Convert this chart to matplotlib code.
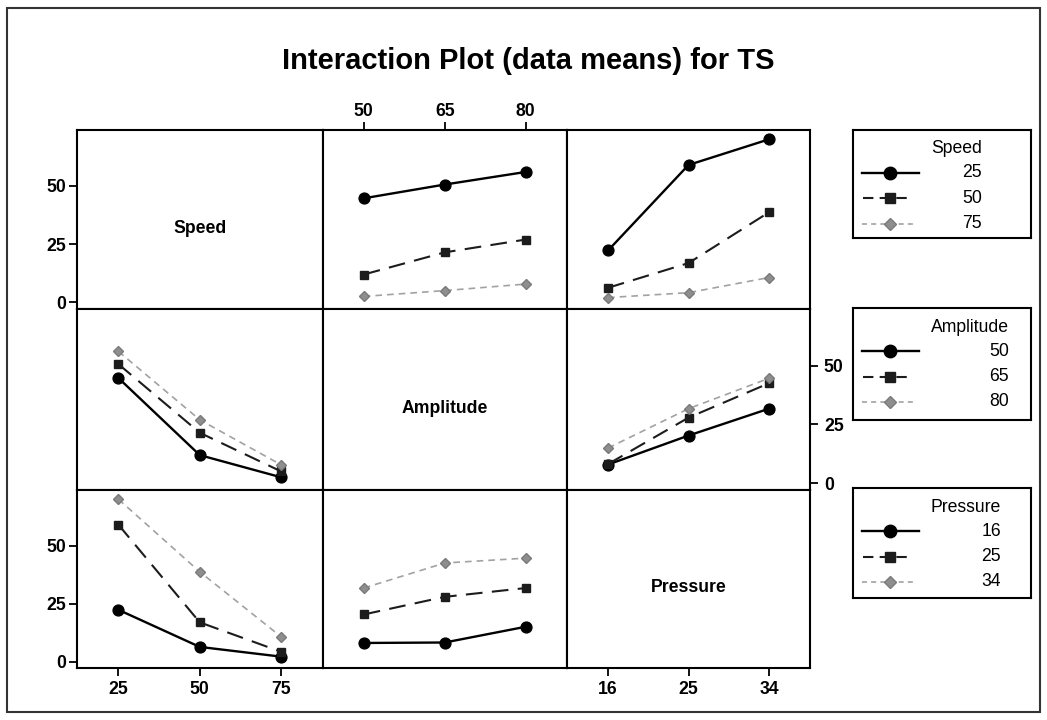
import matplotlib
matplotlib.use("Agg")
import matplotlib.pyplot as plt
from matplotlib.patches import Rectangle
import numpy as np

plt.rcParams['font.family'] = ['Liberation Sans', 'DejaVu Sans']

# ---------------- data ----------------
title = "Interaction Plot (data means) for TS"
factors = ["Speed", "Amplitude", "Pressure"]
speed_levels = [25, 50, 75]
amplitude_levels = [50, 65, 80]
pressure_levels = [16, 25, 34]

# mean TS: rows = Speed level, cols = Amplitude level
ts_speed_amplitude = [[44.7, 50.6, 56.0],
                      [12.0, 21.5, 27.0],
                      [2.6, 5.1, 7.9]]
# rows = Speed level, cols = Pressure level
ts_speed_pressure = [[22.3, 59.0, 70.0],
                     [6.3, 16.9, 38.7],
                     [2.1, 4.2, 10.7]]
# rows = Amplitude level, cols = Pressure level
ts_amplitude_pressure = [[8.0, 20.3, 31.7],
                         [8.2, 27.9, 42.5],
                         [15.0, 31.7, 44.6]]
y_ticks = [0, 25, 50]

levels = [speed_levels, amplitude_levels, pressure_levels]
tables = {
    (0, 1): np.array(ts_speed_amplitude),
    (0, 2): np.array(ts_speed_pressure),
    (1, 2): np.array(ts_amplitude_pressure),
}
tables[(1, 0)] = tables[(0, 1)].T
tables[(2, 0)] = tables[(0, 2)].T
tables[(2, 1)] = tables[(1, 2)].T

# ---------------- layout ----------------
W, H = 1047, 720
fig = plt.figure(figsize=(W / 100, H / 100), dpi=100)
fig.patch.set_facecolor('white')

def fx(x):
    return x / W

def fy(y):
    return 1 - y / H

col_edges = [77, 322.5, 567, 810]
row_edges = [130, 309, 490, 668]
YLIM = (-2.8, 74.0)
PADF = 0.255

styles = [
    dict(color='black', ls='-', lw=1.7, marker='o', ms=7.8, mfc='black', mec='black'),
    dict(color='#1c1c1c', ls=(0, (8, 4.5)), lw=1.5, marker='s', ms=6.0, mfc='#1c1c1c', mec='#1c1c1c'),
    dict(color='#a2a2a2', ls=(0, (4, 3)), lw=1.2, marker='D', ms=5.5, mfc='#8e8e8e', mec='#7a7a7a'),
]

TICK_FS = 12.7
tick_kw = dict(fontsize=TICK_FS, fontweight='bold')

for r in range(3):
    for c in range(3):
        x0, x1 = col_edges[c], col_edges[c + 1]
        y0, y1 = row_edges[r], row_edges[r + 1]
        ax = fig.add_axes([fx(x0), fy(y1), (x1 - x0) / W, (y1 - y0) / H])
        for sp in ax.spines.values():
            sp.set_linewidth(1.5)
            sp.set_color('black')
        lv = levels[c]
        span = lv[-1] - lv[0]
        ax.set_xlim(lv[0] - PADF * span, lv[-1] + PADF * span)
        ax.set_ylim(*YLIM)
        ax.tick_params(direction='out', length=6, width=1.3, colors='black')
        ax.set_xticks([])
        ax.set_yticks([])
        if r == c:
            ax.text(0.5, 0.45, factors[r], transform=ax.transAxes, ha='center',
                    va='center', fontsize=TICK_FS, fontweight='bold')
        else:
            tab = tables[(r, c)]
            for i in range(3):
                ax.plot(lv, tab[i], **styles[i])
        # x ticks
        if (c == 0 and r == 2) or (c == 2 and r == 2):
            ax.set_xticks(lv)
            ax.set_xticklabels([str(v) for v in lv], **tick_kw)
            ax.tick_params(axis='x', pad=3)
        if c == 1 and r == 0:
            ax.xaxis.set_ticks_position('top')
            ax.set_xticks(lv)
            ax.set_xticklabels([str(v) for v in lv], **tick_kw)
            ax.tick_params(axis='x', pad=1.5)
        # y ticks
        if c == 0 and r in (0, 2):
            ax.set_yticks(y_ticks)
            ax.set_yticklabels([str(v) for v in y_ticks], **tick_kw)
            ax.tick_params(axis='y', pad=2)
        if c == 2 and r == 1:
            ax.yaxis.set_ticks_position('right')
            ax.set_yticks(y_ticks)
            ax.set_yticklabels([str(v) for v in y_ticks], **tick_kw)
            ax.tick_params(axis='y', pad=4)

# ---------------- legends ----------------
legend_boxes = [(853, 1031, 130, 238), (853, 1031, 308, 420), (853, 1031, 488, 598)]
legend_dashes = ['-', (0, (5, 3)), (0, (3, 2.5))]
renderer = fig.canvas.get_renderer()
for k, (lx0, lx1, ly0, ly1) in enumerate(legend_boxes):
    lax = fig.add_axes([fx(lx0), fy(ly1), (lx1 - lx0) / W, (ly1 - ly0) / H])
    lax.set_xlim(lx0, lx1)
    lax.set_ylim(ly1, ly0)
    lax.set_xticks([])
    lax.set_yticks([])
    for sp in lax.spines.values():
        sp.set_linewidth(1.5)
        sp.set_color('black')
    t = lax.text(931, ly0 + 19, factors[k], ha='left', va='center', fontsize=TICK_FS)
    bb = t.get_window_extent(renderer)
    right_x = lax.transData.inverted().transform((bb.x1, bb.y0))[0]
    for i, lvl in enumerate(levels[k]):
        yy = ly0 + 43 + i * 25.5
        st = dict(styles[i])
        if i == 0:
            lax.plot([862, 919], [yy, yy], color=st['color'], ls='-', lw=st['lw'])
        elif i == 1:
            lax.plot([863, 911], [yy, yy], color=st['color'], ls=legend_dashes[1], lw=st['lw'])
        else:
            lax.plot([862, 916], [yy, yy], color=st['color'], ls=legend_dashes[2], lw=st['lw'])
        lax.plot([890], [yy], ls='none', marker=st['marker'], ms=st['ms'] * 1.15,
                 mfc=st['mfc'], mec=st['mec'])
        lax.text(right_x, yy, str(lvl), ha='right', va='center', fontsize=TICK_FS)

# ---------------- title & frame ----------------
fig.text(fx(528), fy(69.3), title, ha='center', va='baseline', fontsize=21,
         fontweight='bold')
fig.add_artist(Rectangle((fx(7), fy(712)), (1040 - 7) / W, (712 - 8) / H,
                         transform=fig.transFigure, fill=False, lw=1.5,
                         edgecolor='#333333'))

fig.savefig('out.png', dpi=100)
